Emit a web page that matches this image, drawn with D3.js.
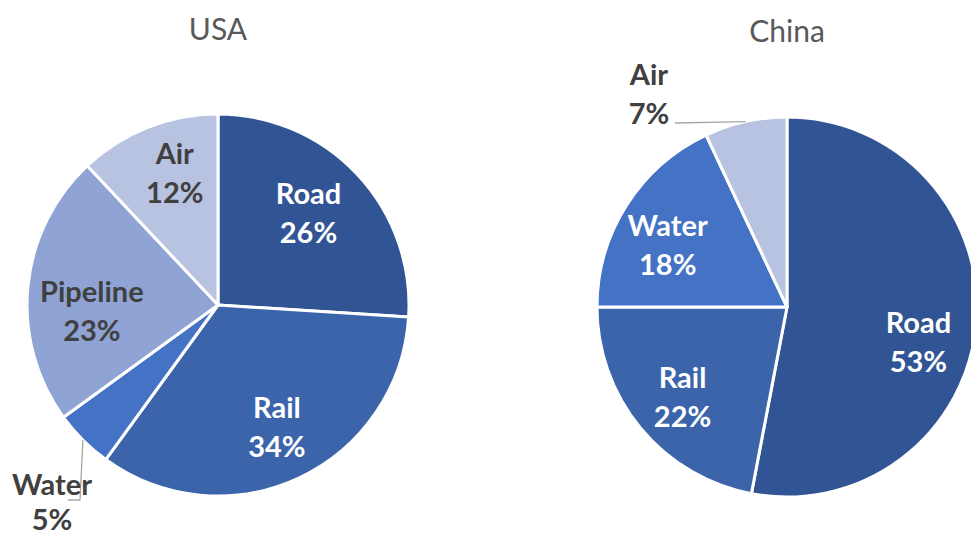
<!DOCTYPE html>
<html><head><meta charset="utf-8">
<script src="https://cdn.jsdelivr.net/npm/d3@7"></script>
<style>body{margin:0;background:#fff}svg{display:block}</style>
</head><body>
<svg id="c" width="971" height="534"></svg>
<script>
const usaCategories = ["Road","Rail","Water","Pipeline","Air"];
const usaValues = [26,34,5,23,12];
const chinaCategories = ["Road","Rail","Water","Air"];
const chinaValues = [53,22,18,7];
const titles = ["USA","China"];

const colors = {Road:"#315594",Rail:"#3C64AB",Water:"#4472C4",Pipeline:"#8FA3D4",Air:"#B8C3E2"};
const darkText = {Air:true,Pipeline:true};

const svg = d3.select("#c");
const font = "Lato, 'Open Sans', sans-serif";

const charts = [
  {title:titles[0], cats:usaCategories, vals:usaValues, cx:218, cy:305, r:191, ty:28,
   outside:{Water:{tx:52, ty:483, gap:35, path:[[80,500],[68,500]]}},
   nudge:{Road:[-7,-1],Rail:[2,1],Pipeline:[7,18],Air:[6,-8]}},
  {title:titles[1], cats:chinaCategories, vals:chinaValues, cx:787, cy:307, r:190, ty:30,
   outside:{Air:{tx:649, ty:73, gap:39, path:[[675,123]]}},
   nudge:{Road:[-1,22],Rail:[-2,5],Water:[-7,9]}}
];

charts.forEach(ch => {
  const data = ch.cats.map((c,i)=>({cat:c, v:ch.vals[i]}));
  const pie = d3.pie().value(d=>d.v).sort(null);
  const arcs = pie(data);
  const arc = d3.arc().innerRadius(0).outerRadius(ch.r);
  const labelArc = d3.arc().innerRadius(ch.r*0.7).outerRadius(ch.r*0.7);
  const g = svg.append("g").attr("transform",`translate(${ch.cx},${ch.cy})`);
  g.selectAll("path.s").data(arcs).join("path").attr("class","s")
    .attr("d",arc).attr("fill",d=>colors[d.data.cat])
    .attr("stroke","#fff").attr("stroke-width",3).attr("stroke-linejoin","round");

  svg.append("text").attr("x",ch.cx).attr("y",ch.ty).attr("text-anchor","middle")
    .attr("dominant-baseline","central").attr("font-family",font).attr("font-size",30)
    .attr("fill","#595959").text(ch.title);

  arcs.forEach(a => {
    const cat = a.data.cat;
    let x, y, fill, gap = 39;
    if (ch.outside[cat]) {
      const o = ch.outside[cat];
      const mid = (a.startAngle+a.endAngle)/2;
      const p0 = [ch.cx + ch.r*1.0*Math.sin(mid), ch.cy - ch.r*1.0*Math.cos(mid)];
      const pts = [p0, ...o.path];
      svg.append("path").attr("d", d3.line()(pts)).attr("fill","none")
        .attr("stroke","#A6A6A6").attr("stroke-width",1.3);
      x = o.tx; y = o.ty; fill = "#404040"; gap = o.gap;
    } else {
      const c = labelArc.centroid(a);
      const n = ch.nudge[cat] || [0,0];
      x = ch.cx + c[0] + n[0]; y = ch.cy + c[1] + n[1] - 20;
      fill = darkText[cat] ? "#404040" : "#ffffff";
    }
    const t = svg.append("text").attr("text-anchor","middle").attr("font-family",font)
      .attr("font-weight","bold").attr("font-size",29).attr("fill",fill);
    t.append("tspan").attr("x",x).attr("y",y).attr("dominant-baseline","central").text(cat);
    t.append("tspan").attr("x",x).attr("y",y+gap).attr("dominant-baseline","central").text(a.data.v+"%");
  });
});
</script>
</body></html>
